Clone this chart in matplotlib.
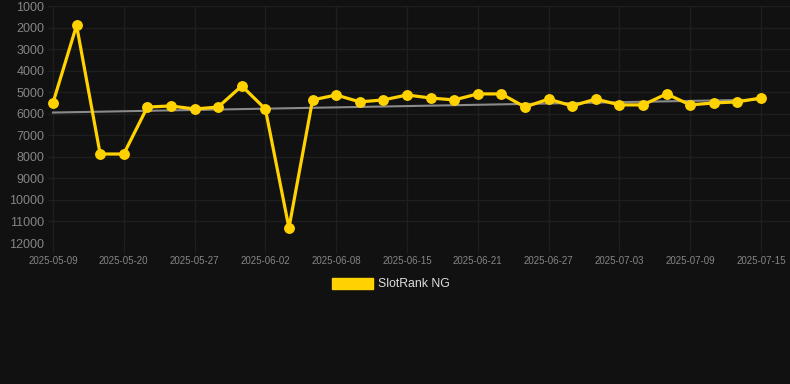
import numpy as np
import matplotlib
matplotlib.use("Agg")
import matplotlib.pyplot as plt
from matplotlib.patches import Patch

plt.rcParams['font.family'] = ['Liberation Sans', 'DejaVu Sans']

# dates (only every third one is labelled on the axis)
dates = ["2025-05-09", "2025-05-13", "2025-05-16", "2025-05-20", "2025-05-22",
         "2025-05-25", "2025-05-27", "2025-05-29", "2025-05-31", "2025-06-02",
         "2025-06-04", "2025-06-06", "2025-06-08", "2025-06-10", "2025-06-13",
         "2025-06-15", "2025-06-17", "2025-06-19", "2025-06-21", "2025-06-23",
         "2025-06-25", "2025-06-27", "2025-06-29", "2025-07-01", "2025-07-03",
         "2025-07-05", "2025-07-07", "2025-07-09", "2025-07-11", "2025-07-13",
         "2025-07-15"]
rank = [5500, 1900, 7870, 7870, 5690, 5640, 5780, 5690, 4710, 5780,
        11300, 5360, 5130, 5450, 5360, 5130, 5270, 5360, 5080, 5080,
        5690, 5320, 5640, 5320, 5590, 5590, 5080, 5590, 5500, 5450,
        5270]
yticks = [1000, 2000, 3000, 4000, 5000, 6000, 7000, 8000, 9000, 10000, 11000, 12000]

bg = "#111111"
gold = "#FFD200"
gridc = "#1f1f1f"

fig = plt.figure(figsize=(7.9, 3.84), dpi=100, facecolor=bg)
ax = fig.add_axes([48/790, 141/384, 742/790, 237/384], facecolor=bg)

x = np.arange(len(rank))
# linear trend
k, b = np.polyfit(x, rank, 1)
ax.plot(x, k*x + b, color="#8a8a8a", lw=1.5, zorder=2)
ax.plot(x, rank, color=gold, lw=2.3, marker="o", ms=6.8, zorder=3)

ax.set_ylim(12000, 1000)
ax.set_xlim(-0.21, 31.23)
ax.set_yticks(yticks)
ax.set_xticks(x[::3])
ax.set_xticklabels(dates[::3])
ax.grid(True, color=gridc, lw=1)
for s in ax.spines.values():
    s.set_visible(False)
ax.tick_params(axis="y", length=0, pad=2.5, labelsize=9, labelcolor="#858585")
ax.tick_params(axis="x", length=7, color=gridc, pad=2, labelsize=7, labelcolor="#858585")

fig.legend(handles=[Patch(facecolor=gold, edgecolor=gold)], labels=["SlotRank NG"],
           loc="center", bbox_to_anchor=(0.495, 0.26), frameon=False,
           handlelength=3.3, handleheight=1.0, handletextpad=0.45,
           fontsize=8.8, labelcolor="#dddddd")

fig.savefig("out.png", dpi=100, facecolor=bg)
